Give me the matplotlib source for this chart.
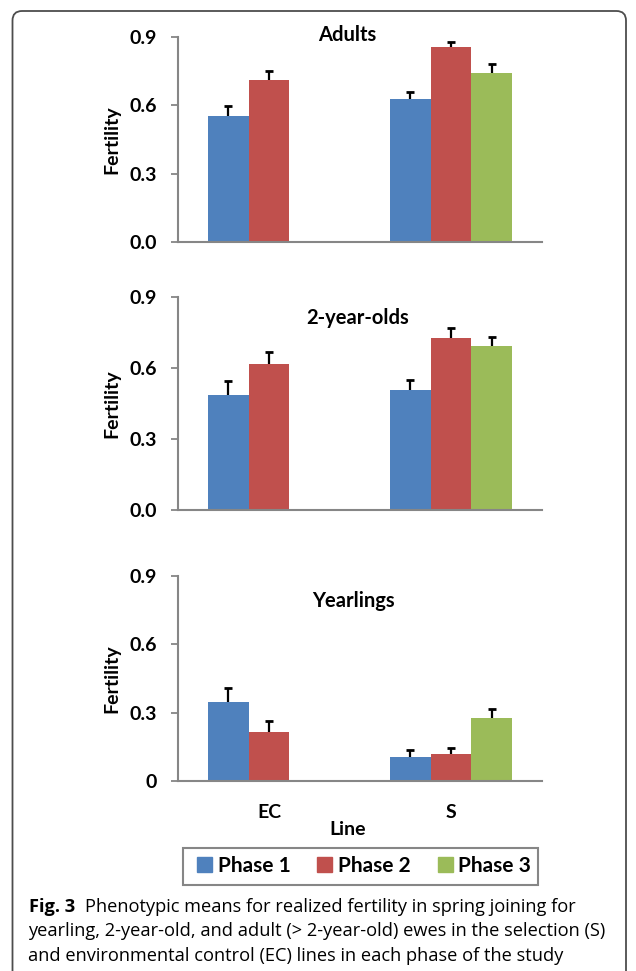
import matplotlib
matplotlib.use("Agg")
import matplotlib.pyplot as plt
import numpy as np
from matplotlib.patches import FancyBboxPatch, Rectangle

# ---- data ----
lines = ["EC", "S"]
phases = ["Phase 1", "Phase 2", "Phase 3"]
panel_titles = ["Adults", "2-year-olds", "Yearlings"]

adults_means = [[0.553, 0.628], [0.711, 0.856], [np.nan, 0.741]]
adults_err = [[0.045, 0.032], [0.041, 0.022], [np.nan, 0.040]]
two_year_means = [[0.484, 0.506], [0.617, 0.727], [np.nan, 0.691]]
two_year_err = [[0.062, 0.042], [0.052, 0.040], [np.nan, 0.040]]
yearling_means = [[0.347, 0.104], [0.214, 0.120], [np.nan, 0.275]]
yearling_err = [[0.060, 0.031], [0.049, 0.025], [np.nan, 0.043]]

yticks = [0.0, 0.3, 0.6, 0.9]
ytick_labels_std = ["0.0", "0.3", "0.6", "0.9"]
ytick_labels_yr = ["0", "0.3", "0.6", "0.9"]

caption_bold = "Fig. 3"
caption_lines = [
    "Phenotypic means for realized fertility in spring joining for",
    "yearling, 2-year-old, and adult (> 2-year-old) ewes in the selection (S)",
    "and environmental control (EC) lines in each phase of the study",
]

colors = ["#4F81BD", "#C0504D", "#9BBB59"]
axis_gray = "#868686"

W, H = 636, 971
fig = plt.figure(figsize=(W / 100, H / 100), dpi=100)
plt.rcParams["font.family"] = ["Lato", "DejaVu Sans"]

def fx(px):
    return px / W

def fy(py):
    return 1 - py / H

# panel geometry in pixels: (top, bottom), title centre
panels = [
    (adults_means, adults_err, 37, 242, ytick_labels_std, (347, 35)),
    (two_year_means, two_year_err, 297, 510, ytick_labels_std, (358, 318)),
    (yearling_means, yearling_err, 576, 781, ytick_labels_yr, (353, 601)),
]
left_px, right_px = 178, 542
bw = 0.223
x = np.arange(len(lines))
fs = 14

for i, (means, errs, top, bot, tlabels, (tx, ty)) in enumerate(panels):
    ax = fig.add_axes([fx(left_px), fy(bot), fx(right_px - left_px), (bot - top) / H])
    for k in range(3):
        m = np.array(means[k], dtype=float)
        e = np.array(errs[k], dtype=float)
        pos = x + (k - 1) * bw
        ok = ~np.isnan(m)
        ax.bar(pos[ok], m[ok], width=bw, color=colors[k], label=phases[k], zorder=2)
        ax.vlines(pos[ok], m[ok], m[ok] + e[ok], color="black", linewidth=1.6, zorder=3)
        ax.plot(pos[ok], m[ok] + e[ok], linestyle="none", marker="_", markersize=5.5,
                markeredgewidth=2.0, color="black", zorder=3)
    ax.set_xlim(-0.5, 1.5)
    ax.set_ylim(0, 0.9)
    ax.set_yticks(yticks)
    ax.set_yticklabels(tlabels, fontsize=fs, fontweight="bold")
    ax.tick_params(axis="y", length=5, width=1.3, color=axis_gray, pad=10)
    ax.tick_params(axis="x", length=0)
    for s in ["top", "right"]:
        ax.spines[s].set_visible(False)
    for s in ["left", "bottom"]:
        ax.spines[s].set_color(axis_gray)
        ax.spines[s].set_linewidth(1.5)
    ax.set_ylabel("Fertility", fontsize=fs, fontweight="bold", va="center")
    ax.yaxis.set_label_coords((112 - left_px) / (right_px - left_px), 0.5)
    ax.patch.set_alpha(0)
    if i < 2:
        ax.set_xticks([])
    else:
        ax.set_xticks(x)
        ax.set_xticklabels(lines, fontsize=fs, fontweight="bold")
        ax.tick_params(axis="x", pad=16.5)
        ax.set_xlabel("Line", fontsize=fs, fontweight="bold", va="center")
        ax.xaxis.set_label_coords((348 - left_px) / (right_px - left_px),
                                  -(829 - bot) / (bot - top))
    fig.text(fx(tx), fy(ty), panel_titles[i], fontsize=14.5, fontweight="bold",
             ha="center", va="center")

# legend box
leg_box = Rectangle((fx(183), fy(885)), fx(538 - 183), (885 - 848) / H,
                    transform=fig.transFigure, facecolor="white", edgecolor=axis_gray,
                    linewidth=1.5)
fig.add_artist(leg_box)
handles = [Rectangle((0, 0), 1, 1, color=c) for c in colors]
fig.legend(handles, phases, loc="center", bbox_to_anchor=(fx(364), fy(866)),
           ncol=3, frameon=False, prop={"weight": "bold", "size": 15},
           handlelength=0.72, handleheight=0.72, handletextpad=0.25, columnspacing=1.3,
           borderpad=0, borderaxespad=0)

# outer rounded border
border = FancyBboxPatch((fx(12.5), fy(990)), fx(626 - 12.5), (990 - 11) / H,
                        boxstyle="round,pad=0,rounding_size=0.015",
                        transform=fig.transFigure, facecolor="none",
                        edgecolor="#4d4d4d", linewidth=1.3, mutation_aspect=W / H)
fig.add_artist(border)

# caption: size chosen so that the longest line spans the measured width
cap_font = ["Open Sans", "DejaVu Sans"]
fig.canvas.draw()
r = fig.canvas.get_renderer()
probe = fig.text(0, 0, caption_lines[1], fontsize=12, family=cap_font)
pw = probe.get_window_extent(renderer=r).width
probe.remove()
cap_size = 12 * (603 - 28) / pw

t_bold = fig.text(fx(29), fy(912), caption_bold, fontsize=cap_size, fontweight="bold",
                  family=cap_font, va="baseline", ha="left")
bb = t_bold.get_window_extent(renderer=r)
fig.text(bb.x1 / W + fx(10), fy(912), caption_lines[0],
         fontsize=cap_size, family=cap_font, va="baseline", ha="left")
fig.text(fx(28), fy(936), caption_lines[1],
         fontsize=cap_size, family=cap_font, va="baseline", ha="left")
fig.text(fx(28), fy(961), caption_lines[2],
         fontsize=cap_size, family=cap_font, va="baseline", ha="left")

fig.savefig("out.png", dpi=100)
